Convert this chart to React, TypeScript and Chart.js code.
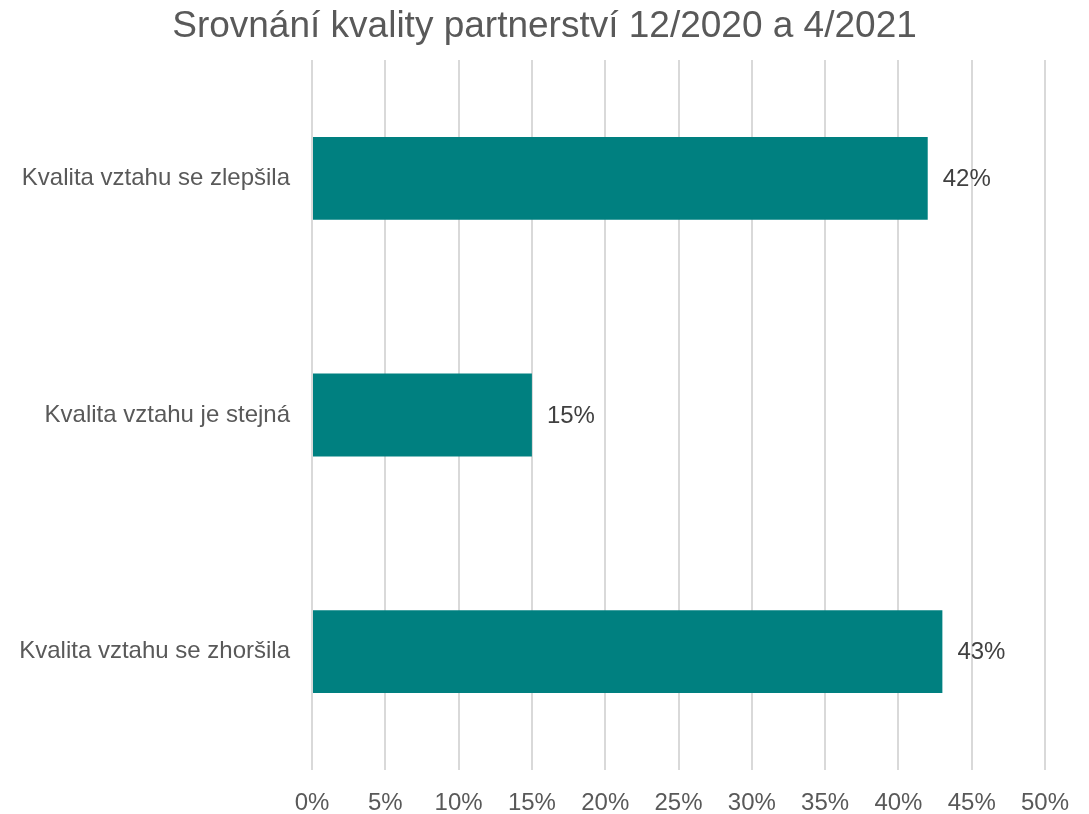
import React, { useEffect, useRef } from "react";
import { Chart, registerables } from "chart.js";

Chart.register(...registerables);

const titleText = "Srovnání kvality partnerství 12/2020 a 4/2021";
const categories = [
  "Kvalita vztahu se zlepšila",
  "Kvalita vztahu je stejná",
  "Kvalita vztahu se zhoršila",
];
const values = [42, 15, 43];
const xMin = 0;
const xMax = 50;
const xStep = 5;

const FONT = "'Liberation Sans', Arial, sans-serif";

const dataLabelPlugin = {
  id: "dataLabels",
  afterDatasetsDraw(chart: any) {
    const ctx = chart.ctx;
    const meta = chart.getDatasetMeta(0);
    ctx.save();
    ctx.font = `24px ${FONT}`;
    ctx.fillStyle = "#404040";
    ctx.textAlign = "left";
    ctx.textBaseline = "middle";
    meta.data.forEach((bar: any, i: number) => {
      ctx.fillText(`${values[i]}%`, bar.x + 15, bar.y + 1);
    });
    ctx.restore();
  },
};

const centeredTitlePlugin = {
  id: "centeredTitle",
  afterDraw(chart: any) {
    const ctx = chart.ctx;
    ctx.save();
    ctx.font = `37px ${FONT}`;
    ctx.fillStyle = "#595959";
    ctx.textAlign = "center";
    ctx.textBaseline = "middle";
    ctx.fillText(titleText, chart.width / 2, 27);
    ctx.restore();
  },
};

export default function App() {
  const ref = useRef<HTMLCanvasElement | null>(null);
  useEffect(() => {
    if (!ref.current) return;
    const chart = new Chart(ref.current, {
      type: "bar",
      data: {
        labels: categories,
        datasets: [
          {
            data: values,
            backgroundColor: "#008080",
            borderWidth: 0,
            barPercentage: 0.35,
            categoryPercentage: 1,
          },
        ],
      },
      options: {
        indexAxis: "y",
        animation: false,
        responsive: false,
        maintainAspectRatio: false,
        layout: { padding: { left: 0, right: 44, top: 60, bottom: 0 } },
        plugins: {
          legend: { display: false },
          tooltip: { enabled: false },
          title: { display: false },
        },
        scales: {
          x: {
            min: xMin,
            max: xMax,
            border: { display: false },
            grid: { color: "#d9d9d9", lineWidth: 2, drawTicks: false },
            ticks: {
              stepSize: xStep,
              padding: 19,
              color: "#595959",
              font: { family: FONT, size: 24 },
              callback: (v: any) => `${v}%`,
            },
            afterFit: (scale: any) => {
              scale.height = 44;
            },
          },
          y: {
            border: { display: false },
            grid: { display: false, drawTicks: false },
            ticks: {
              padding: 22,
              color: "#595959",
              font: { family: FONT, size: 24 },
            },
            afterFit: (scale: any) => {
              scale.width = 312;
            },
          },
        },
      },
      plugins: [dataLabelPlugin, centeredTitlePlugin],
    } as any);
    return () => chart.destroy();
  }, []);
  return (
    <div style={{ position: "fixed", left: 0, top: 0, width: 1089, height: 814, background: "#fff" }}>
      <canvas ref={ref} width={1089} height={814} style={{ width: 1089, height: 814 }} />
    </div>
  );
}
